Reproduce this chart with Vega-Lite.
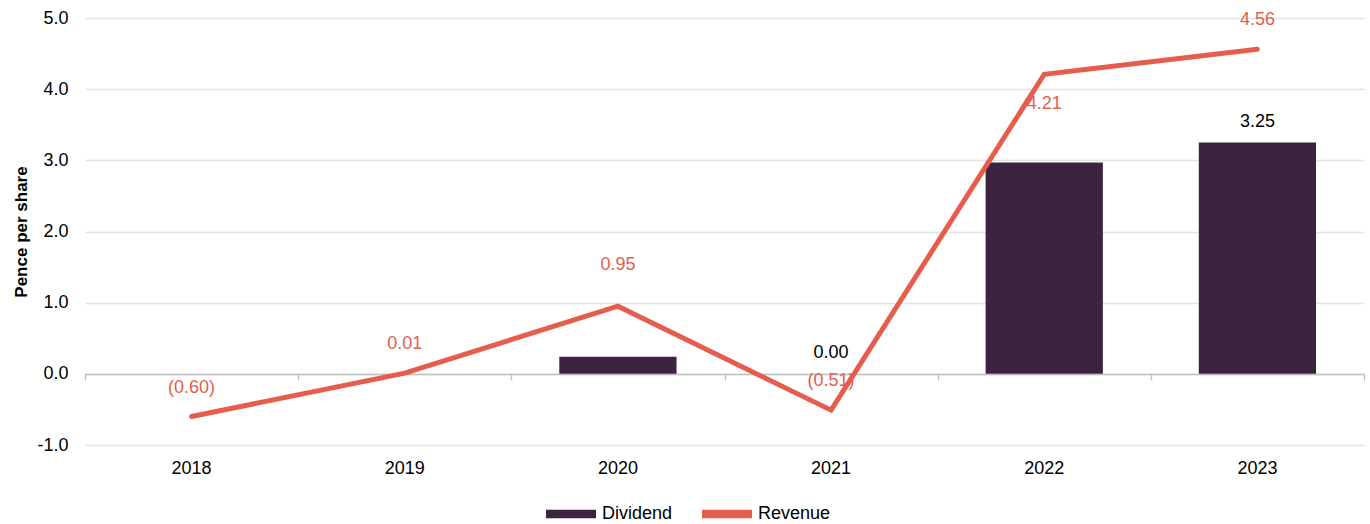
{
  "$schema": "https://vega.github.io/schema/vega-lite/v6.json",
  "width": 1279,
  "height": 427,
  "autosize": {"type": "none"},
  "padding": {"left": 85, "top": 18, "right": 6, "bottom": 79},
  "background": "white",
  "config": {
    "font": "Liberation Sans",
    "view": {"stroke": null},
    "axis": {"labelFont": "Liberation Sans", "titleFont": "Liberation Sans", "labelColor": "#000000", "titleColor": "#000000"},
    "legend": {"labelFont": "Liberation Sans"}
  },
  "data": {
    "values": [
      {"year": "2018", "dividend": 0.0, "revenue": -0.60},
      {"year": "2019", "dividend": 0.0, "revenue": 0.01},
      {"year": "2020", "dividend": 0.24, "revenue": 0.95},
      {"year": "2021", "dividend": 0.0, "revenue": -0.51},
      {"year": "2022", "dividend": 2.97, "revenue": 4.21},
      {"year": "2023", "dividend": 3.25, "revenue": 4.56}
    ]
  },
  "resolve": {"axis": {"x": "independent"}},
  "layer": [
    {
      "mark": {"type": "bar", "width": {"band": 0.55}},
      "encoding": {
        "x": {
          "field": "year", "type": "ordinal",
          "scale": {"type": "band", "paddingInner": 0, "paddingOuter": 0},
          "axis": {"orient": "bottom", "title": null, "domain": false, "ticks": false, "grid": false, "labelAngle": 0, "labelFontSize": 18, "labelPadding": 14}
        },
        "y": {
          "field": "dividend", "type": "quantitative",
          "scale": {"domain": [-1, 5], "nice": false, "zero": false},
          "axis": {
            "values": [-1, 0, 1, 2, 3, 4, 5], "format": ".1f",
            "labelExpr": "replace(datum.label, '\u2212', '-')",
            "domain": false, "ticks": false, "labelFontSize": 18, "labelPadding": 17,
            "gridColor": "#e3e3e3", "gridWidth": 1.3,
            "title": "Pence per share", "titleFontSize": 17, "titleFontWeight": "bold", "titlePadding": 6
          }
        },
        "color": {
          "datum": "Dividend",
          "scale": {"domain": ["Dividend", "Revenue"], "range": ["#3c2340", "#e65d4d"]},
          "legend": {
            "title": null, "orient": "none", "direction": "horizontal",
            "legendX": 461, "legendY": 471,
            "symbolType": "M-1,-0.17H1V0.17H-1Z", "symbolSize": 2500, "symbolStrokeWidth": 0,
            "labelFontSize": 18, "labelOffset": 6, "columnPadding": 29
          }
        }
      }
    },
    {
      "transform": [{"filter": "datum.year == '2021' || datum.year == '2023'"}],
      "mark": {"type": "text", "dy": -21, "fontSize": 18, "color": "#000000"},
      "encoding": {
        "x": {"field": "year", "type": "ordinal", "axis": null},
        "y": {"field": "dividend", "type": "quantitative"},
        "text": {"field": "dividend", "type": "quantitative", "format": ".2f"}
      }
    },
    {
      "transform": [{"filter": "datum.year != '2022' && datum.year != '2020'"}],
      "mark": {"type": "text", "dy": -29, "fontSize": 18, "color": "#e65d4d"},
      "encoding": {
        "x": {"field": "year", "type": "ordinal", "axis": null},
        "y": {"field": "revenue", "type": "quantitative"},
        "text": {"field": "revenue", "type": "quantitative", "format": "(.2f"}
      }
    },
    {
      "transform": [{"filter": "datum.year == '2020'"}],
      "mark": {"type": "text", "dy": -41, "fontSize": 18, "color": "#e65d4d"},
      "encoding": {
        "x": {"field": "year", "type": "ordinal", "axis": null},
        "y": {"field": "revenue", "type": "quantitative"},
        "text": {"field": "revenue", "type": "quantitative", "format": "(.2f"}
      }
    },
    {
      "transform": [{"filter": "datum.year == '2022'"}],
      "mark": {"type": "text", "dy": 30, "fontSize": 18, "color": "#e65d4d"},
      "encoding": {
        "x": {"field": "year", "type": "ordinal", "axis": null},
        "y": {"field": "revenue", "type": "quantitative"},
        "text": {"field": "revenue", "type": "quantitative", "format": "(.2f"}
      }
    },
    {
      "mark": {"type": "line", "strokeWidth": 5, "strokeCap": "round", "strokeJoin": "miter"},
      "encoding": {
        "x": {
          "field": "year", "type": "ordinal",
          "axis": {"orient": "top", "offset": -356, "title": null, "labels": false, "grid": false,
                   "domain": true, "domainColor": "#bfbfbf", "domainWidth": 1.3,
                   "ticks": true, "tickBand": "extent", "tickSize": -6, "tickColor": "#bfbfbf", "tickWidth": 1.3}
        },
        "y": {"field": "revenue", "type": "quantitative"},
        "color": {"datum": "Revenue"}
      }
    }
  ]
}
